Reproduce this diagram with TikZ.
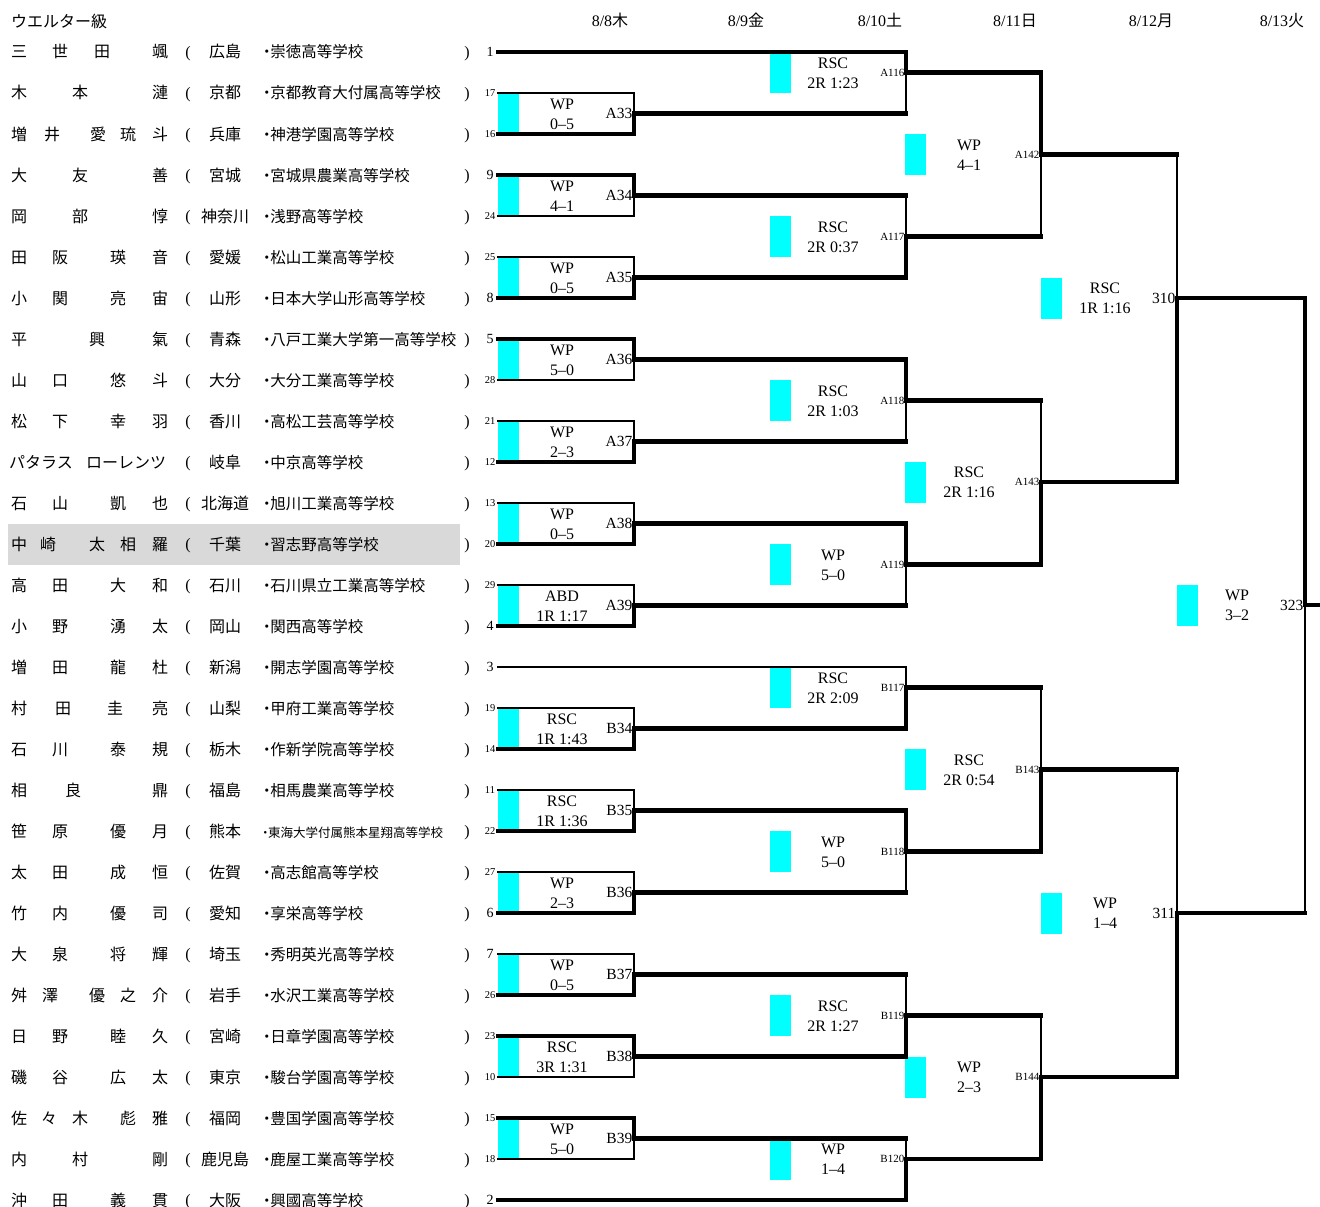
\documentclass[tikz,border=0pt]{standalone}
\usepackage{fontspec}
\setmainfont{Liberation Serif}
\newfontfamily\jp{Noto Sans CJK JP}
\definecolor{hl}{HTML}{D9D9D9}
\definecolor{aqua}{RGB}{0,255,255}
\tikzset{
 thinln/.style={line width=1.8pt,line cap=rect},
 thickln/.style={line width=4.2pt,line cap=rect,line join=miter},
 cyanbox/.style={fill=aqua,draw=none},
 jpt/.style={font=\jp\fontsize{16}{16}\selectfont,inner sep=0pt,text height=14pt,text depth=2pt},
 lat/.style={font=\fontsize{16}{16}\selectfont,inner sep=0pt,text height=10.8pt,text depth=0pt},
 sct/.style={font=\fontsize{16}{16}\selectfont,inner sep=0pt,text height=10.8pt,text depth=0pt},
 codeL/.style={font=\fontsize{15.5}{15.5}\selectfont,inner sep=0pt,text height=10.5pt,text depth=0pt},
 codeS/.style={font=\fontsize{11}{11}\selectfont,inner sep=0pt,text height=7.4pt,text depth=0pt},
 seedL/.style={font=\fontsize{14}{14}\selectfont,inner sep=0pt,text height=9.4pt,text depth=0pt},
 seedS/.style={font=\fontsize{10.5}{10.5}\selectfont,inner sep=0pt,text height=7pt,text depth=0pt},
}
% one entrant row: [#1 school size], #2 row, #3 name chars x/char, #4 prefecture, #5 school
\newcommand\plrow[5][15.5]{%
  \pgfmathtruncatemacro\yy{52+41*(#2-1)}%
  \foreach \x/\c in {#3}{\node[jpt] (n#2-\x) at (\x,\yy) {\c};}%
  \node[jpt] (pf#2) at (225,\yy) {#4};%
  \node[jpt,anchor=west] (sc#2) at (259,\yy) {\fontsize{#1}{#1}\selectfont ・\kern-0.28em#5};%
}
% match labels: #1 match, #2 out y, #3 text x, #4 cyan x, #5 line1, #6 line2, #7 code style, #8 code text
\newcommand\mlab[8]{%
  \fill[cyanbox] (#4,#2-20.5) rectangle ++(21,41);%
  \node[sct] (#1-a) at (#3,#2-9.5) {#5};%
  \node[sct] (#1-b) at (#3,#2+10.5) {#6};%
  \node[#7,anchor=east] (#1-c) at ([xshift=-1.5pt]#1) {#8};%
}
% match lines: #1 match, #2 winner entry, #3 loser entry, #4 loser horizontal style
\newcommand\mline[4]{%
  \draw[thinln] (#3 -| #1) -- (#1);%
  \draw[#4] (#3) -- (#3 -| #1);%
  \draw[thickln] (#2) -- (#2 -| #1) -- (#1);%
}
\begin{document}
\begin{tikzpicture}[x=1pt,y=-1pt]
\useasboundingbox (0,0) rectangle (1320,1207);
\fill[white] (0,0) rectangle (1320,1207);
\fill[hl] (8,524) rectangle (460,565);

\node[jpt,anchor=west] (title) at (11,22) {ウエルター級};
\node[lat] (d1) at (610,21) {8/8{\jp 木}};
\node[lat] (d2) at (746,21) {8/9{\jp 金}};
\node[lat] (d3) at (880,21) {8/10{\jp 土}};
\node[lat] (d4) at (1015,21) {8/11{\jp 日}};
\node[lat] (d5) at (1151,21) {8/12{\jp 月}};
\node[lat] (d6) at (1282,21) {8/13{\jp 火}};

% entrants
\foreach \r/\sd in {1/1,2/17,3/16,4/9,5/24,6/25,7/8,8/5,9/28,10/21,11/12,12/13,13/20,14/29,15/4,16/3,17/19,18/14,19/11,20/22,21/27,22/6,23/7,24/26,25/23,26/10,27/15,28/18,29/2}{
  \pgfmathtruncatemacro\yy{52+41*(\r-1)}
  \coordinate (P\r) at (498,\yy);
  \ifnum\sd>9 \node[seedS] (s\r) at (490,\yy) {\sd};\else\node[seedL] (s\r) at (490,\yy) {\sd};\fi
  \node[lat] (lp\r) at (188,\yy) {(};
  \node[lat] (rp\r) at (467,\yy) {)};
}
\plrow{1}{19/三,60/世,102/田,160/颯}{広島}{崇徳高等学校}
\plrow{2}{19/木,80/本,160/漣}{京都}{京都教育大付属高等学校}
\plrow{3}{19/増,52/井,98/愛,128/琉,160/斗}{兵庫}{神港学園高等学校}
\plrow{4}{19/大,80/友,160/善}{宮城}{宮城県農業高等学校}
\plrow{5}{19/岡,80/部,160/惇}{神奈川}{浅野高等学校}
\plrow{6}{19/田,60/阪,118/瑛,160/音}{愛媛}{松山工業高等学校}
\plrow{7}{19/小,60/関,118/亮,160/宙}{山形}{日本大学山形高等学校}
\plrow{8}{19/平,97/興,160/氣}{青森}{八戸工業大学第一高等学校}
\plrow{9}{19/山,60/口,118/悠,160/斗}{大分}{大分工業高等学校}
\plrow{10}{19/松,60/下,118/幸,160/羽}{香川}{高松工芸高等学校}
\plrow{11}{41/パタラス,126/ローレンツ}{岐阜}{中京高等学校}
\plrow{12}{19/石,60/山,118/凱,160/也}{北海道}{旭川工業高等学校}
\plrow{13}{19/中,48/崎,97/太,128/相,160/羅}{千葉}{習志野高等学校}
\plrow{14}{19/高,60/田,118/大,160/和}{石川}{石川県立工業高等学校}
\plrow{15}{19/小,60/野,118/湧,160/太}{岡山}{関西高等学校}
\plrow{16}{19/増,60/田,118/龍,160/杜}{新潟}{開志学園高等学校}
\plrow{17}{19/村,63/田,115/圭,160/亮}{山梨}{甲府工業高等学校}
\plrow{18}{19/石,60/川,118/泰,160/規}{栃木}{作新学院高等学校}
\plrow{19}{19/相,73/良,160/鼎}{福島}{相馬農業高等学校}
\plrow[12.5]{20}{19/笹,60/原,118/優,160/月}{熊本}{東海大学付属熊本星翔高等学校}
\plrow{21}{19/太,60/田,118/成,160/恒}{佐賀}{高志館高等学校}
\plrow{22}{19/竹,60/内,118/優,160/司}{愛知}{享栄高等学校}
\plrow{23}{19/大,60/泉,118/将,160/輝}{埼玉}{秀明英光高等学校}
\plrow{24}{19/舛,50/澤,97/優,128/之,160/介}{岩手}{水沢工業高等学校}
\plrow{25}{19/日,60/野,118/睦,160/久}{宮崎}{日章学園高等学校}
\plrow{26}{19/磯,60/谷,118/広,160/太}{東京}{駿台学園高等学校}
\plrow{27}{19/佐,49/々,80/木,128/彪,160/雅}{福岡}{豊国学園高等学校}
\plrow{28}{19/内,80/村,160/剛}{鹿児島}{鹿屋工業高等学校}
\plrow{29}{19/沖,60/田,118/義,160/貫}{大阪}{興國高等学校}

% match points
\coordinate (A33) at (634,113.5);
\coordinate (A34) at (634,195.5);
\coordinate (A35) at (634,277.5);
\coordinate (A36) at (634,359.5);
\coordinate (A37) at (634,441.5);
\coordinate (A38) at (634,523.5);
\coordinate (A39) at (634,605.5);
\coordinate (B34) at (634,728.5);
\coordinate (B35) at (634,810.5);
\coordinate (B36) at (634,892.5);
\coordinate (B37) at (634,974.5);
\coordinate (B38) at (634,1056.5);
\coordinate (B39) at (634,1138.5);
\coordinate (A116) at (906,72.5);
\coordinate (A117) at (906,236.5);
\coordinate (A118) at (906,400.5);
\coordinate (A119) at (906,564.5);
\coordinate (B117) at (906,687.5);
\coordinate (B118) at (906,851.5);
\coordinate (B119) at (906,1015.5);
\coordinate (B120) at (906,1159);
\coordinate (A142) at (1041,154.5);
\coordinate (A143) at (1041,482);
\coordinate (B143) at (1041,769.5);
\coordinate (B144) at (1041,1077);
\coordinate (M310) at (1177,298);
\coordinate (M311) at (1177,913);
\coordinate (M323) at (1305,605);
\coordinate (fin) at (1322,605);

% labels and cyan marks
\mlab{A33}{113.5}{562}{498}{WP}{0--5}{codeL}{A33}
\mlab{A34}{195.5}{562}{498}{WP}{4--1}{codeL}{A34}
\mlab{A35}{277.5}{562}{498}{WP}{0--5}{codeL}{A35}
\mlab{A36}{359.5}{562}{498}{WP}{5--0}{codeL}{A36}
\mlab{A37}{441.5}{562}{498}{WP}{2--3}{codeL}{A37}
\mlab{A38}{523.5}{562}{498}{WP}{0--5}{codeL}{A38}
\mlab{A39}{605.5}{562}{498}{ABD}{1R 1:17}{codeL}{A39}
\mlab{B34}{728.5}{562}{498}{RSC}{1R 1:43}{codeL}{B34}
\mlab{B35}{810.5}{562}{498}{RSC}{1R 1:36}{codeL}{B35}
\mlab{B36}{892.5}{562}{498}{WP}{2--3}{codeL}{B36}
\mlab{B37}{974.5}{562}{498}{WP}{0--5}{codeL}{B37}
\mlab{B38}{1056.5}{562}{498}{RSC}{3R 1:31}{codeL}{B38}
\mlab{B39}{1138.5}{562}{498}{WP}{5--0}{codeL}{B39}
\mlab{A116}{72.5}{833}{770}{RSC}{2R 1:23}{codeS}{A116}
\mlab{A117}{236.5}{833}{770}{RSC}{2R 0:37}{codeS}{A117}
\mlab{A118}{400.5}{833}{770}{RSC}{2R 1:03}{codeS}{A118}
\mlab{A119}{564.5}{833}{770}{WP}{5--0}{codeS}{A119}
\mlab{B117}{687.5}{833}{770}{RSC}{2R 2:09}{codeS}{B117}
\mlab{B118}{851.5}{833}{770}{WP}{5--0}{codeS}{B118}
\mlab{B119}{1015.5}{833}{770}{RSC}{2R 1:27}{codeS}{B119}
\mlab{B120}{1159}{833}{770}{WP}{1--4}{codeS}{B120}
\mlab{A142}{154.5}{969}{905}{WP}{4--1}{codeS}{A142}
\mlab{A143}{482}{969}{905}{RSC}{2R 1:16}{codeS}{A143}
\mlab{B143}{769.5}{969}{905}{RSC}{2R 0:54}{codeS}{B143}
\mlab{B144}{1077}{969}{905}{WP}{2--3}{codeS}{B144}
\mlab{M310}{298}{1105}{1041}{RSC}{1R 1:16}{codeL}{310}
\mlab{M311}{913}{1105}{1041}{WP}{1--4}{codeL}{311}
\mlab{M323}{605}{1237}{1177}{WP}{3--2}{codeL}{323}

% bracket lines
\mline{A33}{P3}{P2}{thinln}
\mline{A34}{P4}{P5}{thinln}
\mline{A35}{P7}{P6}{thinln}
\mline{A36}{P8}{P9}{thinln}
\mline{A37}{P11}{P10}{thinln}
\mline{A38}{P13}{P12}{thinln}
\mline{A39}{P15}{P14}{thinln}
\mline{B34}{P18}{P17}{thinln}
\mline{B35}{P20}{P19}{thinln}
\mline{B36}{P22}{P21}{thinln}
\mline{B37}{P24}{P23}{thinln}
\mline{B38}{P25}{P26}{thinln}
\mline{B39}{P27}{P28}{thinln}
\mline{A116}{P1}{A33}{thickln}
\mline{A117}{A35}{A34}{thickln}
\mline{A118}{A36}{A37}{thickln}
\mline{A119}{A38}{A39}{thickln}
\mline{B117}{B34}{P16}{thinln}
\mline{B118}{B35}{B36}{thickln}
\mline{B119}{B38}{B37}{thickln}
\mline{B120}{P29}{B39}{thickln}
\mline{A142}{A116}{A117}{thickln}
\mline{A143}{A119}{A118}{thickln}
\mline{B143}{B118}{B117}{thickln}
\mline{B144}{B120}{B119}{thickln}
\mline{M310}{A143}{A142}{thickln}
\mline{M311}{B144}{B143}{thickln}
\mline{M323}{M310}{M311}{thickln}
\draw[thickln] (M323) -- (fin);
\end{tikzpicture}
\end{document}
